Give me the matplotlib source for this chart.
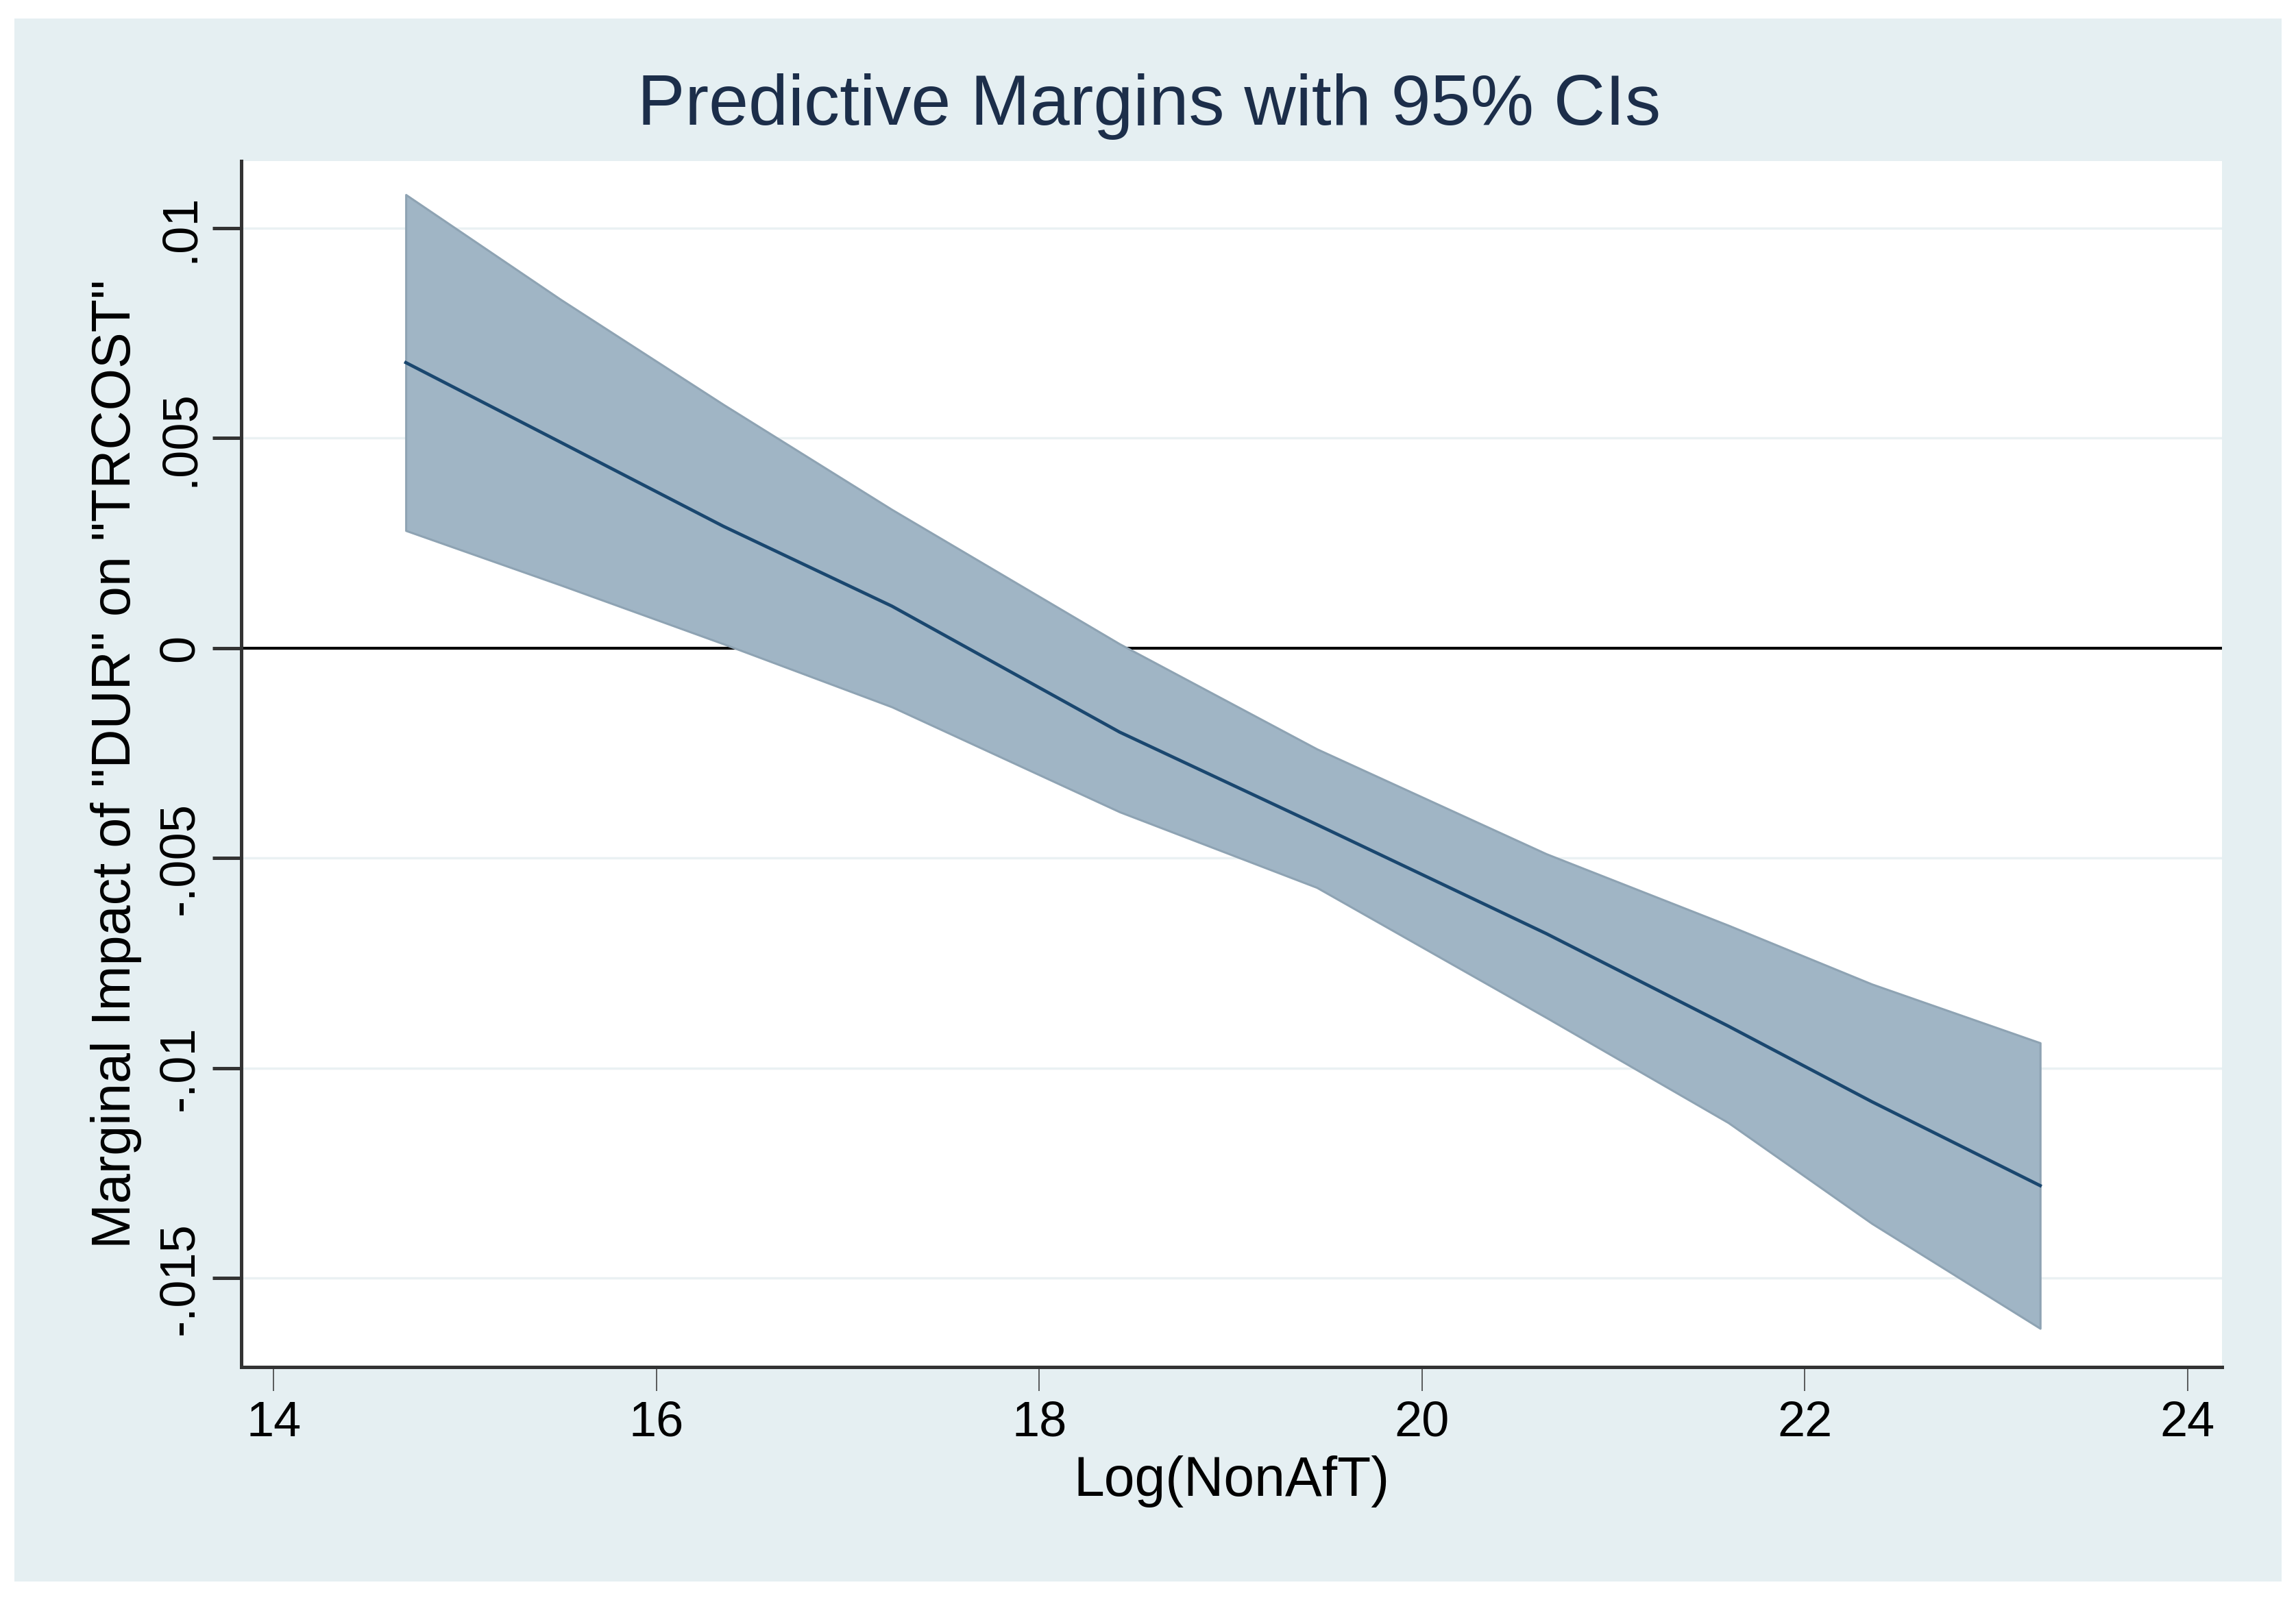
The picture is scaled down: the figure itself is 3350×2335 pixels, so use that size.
import numpy as np
import matplotlib.pyplot as plt
from matplotlib.patches import Rectangle

plt.rcParams['font.family'] = ['Liberation Sans', 'DejaVu Sans']

# values
log_nonaft = [14.69, 15.5, 16.35, 17.23, 18.42, 19.45, 20.65, 21.6, 22.35, 23.23]
margin = [0.0068, 0.0049, 0.0029, 0.0010, -0.0020, -0.0042, -0.0068, -0.0090, -0.0108, -0.0128]
ci_upper = [0.0108, 0.0083, 0.0058, 0.0033, 0.0001, -0.0024, -0.0049, -0.0066, -0.0080, -0.0094]
ci_lower = [0.0028, 0.0015, 0.0001, -0.0014, -0.0039, -0.0057, -0.0088, -0.0113, -0.0137, -0.0162]

xticks = [14, 16, 18, 20, 22, 24]
yticks = [0.01, 0.005, 0, -0.005, -0.01, -0.015]
ytick_labels = ['.01', '.005', '0', '-.005', '-.01', '-.015']

W, H = 3350, 2335
fig = plt.figure(figsize=(W / 100, H / 100), dpi=100, facecolor='white')

# light bluish-gray graph region
bg = Rectangle((21 / W, 1 - 2308 / H), (3329 - 21) / W, (2308 - 27) / H,
               transform=fig.transFigure, facecolor='#e5eff2', edgecolor='none', zorder=-5)
fig.patches.append(bg)

ax = fig.add_axes([352 / W, 1 - 1995 / H, (3242 - 352) / W, (1995 - 235) / H])
ax.set_zorder(2)
ax.set_facecolor('white')

ax.fill_between(log_nonaft, ci_lower, ci_upper, facecolor='#a0b5c5',
                edgecolor='#8ea3b3', linewidth=2.2, zorder=3)
ax.plot(log_nonaft, margin, color='#1a476f', linewidth=3.4, zorder=4)
ax.axhline(0, color='black', linewidth=3, zorder=2)

ax.set_xlim(13.83, 24.18)
ax.set_ylim(-0.01712, 0.0116)
ax.set_xticks(xticks)
ax.set_yticks(yticks)
ax.set_yticklabels(ytick_labels, rotation=90, va='center')
ax.grid(axis='y', color='#eaf1f3', linewidth=2.5, zorder=1)
ax.set_axisbelow(True)

for s in ['top', 'right']:
    ax.spines[s].set_visible(False)
for s in ['left', 'bottom']:
    ax.spines[s].set_color('#333333')
    ax.spines[s].set_linewidth(3.6)

ax.tick_params(axis='x', length=25, width=1.1, color='#333333', pad=10, labelsize=52)
ax.tick_params(axis='y', length=30, width=3.6, color='#333333', pad=10, labelsize=52)

ax.set_xlabel('Log(NonAfT)', fontsize=58, labelpad=10)
ax.set_ylabel('Marginal Impact of "DUR" on "TRCOST"', fontsize=57, labelpad=16)
fig.text(1677 / W, 1 - 155 / H, 'Predictive Margins with 95% CIs', ha='center', va='center',
         fontsize=75, color='#1c2e4a')

fig.savefig('out.png', dpi=100, facecolor='white')
